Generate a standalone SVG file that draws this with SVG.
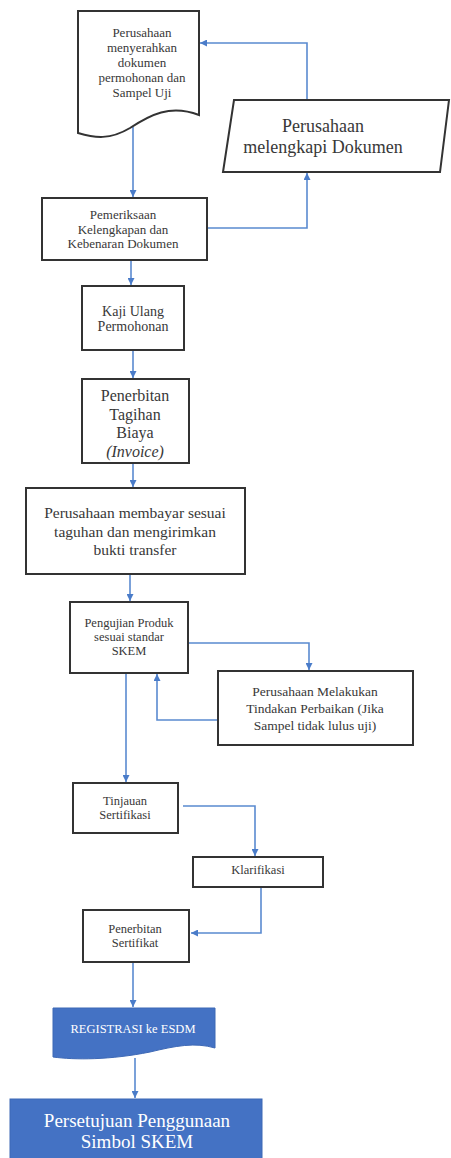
<svg xmlns="http://www.w3.org/2000/svg" width="451" height="1158" viewBox="0 0 451 1158">
<style>
.box{fill:#fff;stroke:#333;stroke-width:2}
.blue{fill:#4472C4;stroke:#3d68b5;stroke-width:1}
.t{font-family:"Liberation Serif","Times New Roman",serif;fill:#383838;text-anchor:middle}
.w{font-family:"Liberation Serif","Times New Roman",serif;fill:#fff;text-anchor:middle}
.c{fill:none;stroke:#5a8ad0;stroke-width:1.6}
</style>
<defs>
<marker id="ah" viewBox="0 0 10 10" refX="10" refY="5" markerWidth="7" markerHeight="7" markerUnits="userSpaceOnUse" orient="auto">
<path d="M0,0 L10,5 L0,10 z" fill="#4a7cc9"/>
</marker>
</defs>
<g id="connectors">
<path class="c" d="M133,127 V197" marker-end="url(#ah)"/>
<path class="c" d="M207,228 H307 V173" marker-end="url(#ah)"/>
<path class="c" d="M307,100 V43 H200" marker-end="url(#ah)"/>
<path class="c" d="M131,260 V285" marker-end="url(#ah)"/>
<path class="c" d="M133,350 V378" marker-end="url(#ah)"/>
<path class="c" d="M133,463 V487" marker-end="url(#ah)"/>
<path class="c" d="M130,574 V601" marker-end="url(#ah)"/>
<path class="c" d="M188,643 H309 V670" marker-end="url(#ah)"/>
<path class="c" d="M218,720 H157 V674" marker-end="url(#ah)"/>
<path class="c" d="M126,673 V782" marker-end="url(#ah)"/>
<path class="c" d="M183,806 H255 V856" marker-end="url(#ah)"/>
<path class="c" d="M261,887 V933 H191" marker-end="url(#ah)"/>
<path class="c" d="M133,962 V1007" marker-end="url(#ah)"/>
<path class="c" d="M135,1058 V1098" marker-end="url(#ah)"/>
</g>
<g id="n1">
<path class="box" d="M78,11 H199 V115 C170,104 150,115 130,128 C110,140 95,138 78,133 Z"/>
<text class="t" font-size="13" x="142" y="37">Perusahaan</text>
<text class="t" font-size="13" x="142" y="52">menyerahkan</text>
<text class="t" font-size="13" x="142" y="67">dokumen</text>
<text class="t" font-size="13" x="142" y="82">permohonan dan</text>
<text class="t" font-size="13" x="142" y="97">Sampel Uji</text>
</g>
<g id="n2">
<path class="box" d="M234,100 H449 L440,172 H223 Z"/>
<text class="t" font-size="18" x="323" y="132">Perusahaan</text>
<text class="t" font-size="18" x="323" y="153">melengkapi Dokumen</text>
</g>
<g id="n3">
<rect class="box" x="42" y="198" width="165" height="62"/>
<text class="t" font-size="13" x="123" y="219">Pemeriksaan</text>
<text class="t" font-size="13" x="123" y="233.5">Kelengkapan dan</text>
<text class="t" font-size="13" x="123" y="248">Kebenaran Dokumen</text>
</g>
<g id="n4">
<rect class="box" x="82" y="286" width="102" height="64"/>
<text class="t" font-size="14" x="133" y="316">Kaji Ulang</text>
<text class="t" font-size="14" x="133" y="331">Permohonan</text>
</g>
<g id="n5">
<rect class="box" x="82" y="379" width="107" height="84"/>
<text class="t" font-size="16" x="135" y="401">Penerbitan</text>
<text class="t" font-size="16" x="135" y="420">Tagihan</text>
<text class="t" font-size="16" x="135" y="438">Biaya</text>
<text class="t" font-size="16" x="135" y="457" font-style="italic">(Invoice)</text>
</g>
<g id="n6">
<rect class="box" x="26" y="488" width="219" height="86"/>
<text class="t" font-size="15.5" x="135" y="518">Perusahaan membayar sesuai</text>
<text class="t" font-size="15.5" x="135" y="536.5">taguhan dan mengirimkan</text>
<text class="t" font-size="15.5" x="135" y="555">bukti transfer</text>
</g>
<g id="n7">
<rect class="box" x="70" y="602" width="118" height="71"/>
<text class="t" font-size="12.5" x="129" y="627">Pengujian Produk</text>
<text class="t" font-size="12.5" x="129" y="641">sesuai standar</text>
<text class="t" font-size="12.5" x="129" y="655">SKEM</text>
</g>
<g id="n8">
<rect class="box" x="218" y="671" width="195" height="74"/>
<text class="t" font-size="13.5" x="315" y="696">Perusahaan Melakukan</text>
<text class="t" font-size="13.5" x="315" y="713">Tindakan Perbaikan (Jika</text>
<text class="t" font-size="13.5" x="315" y="730">Sampel tidak lulus uji)</text>
</g>
<g id="n9">
<rect class="box" x="73" y="783" width="105" height="50"/>
<text class="t" font-size="12.5" x="125" y="805">Tinjauan</text>
<text class="t" font-size="12.5" x="125" y="819">Sertifikasi</text>
</g>
<g id="n10">
<rect class="box" x="193" y="857" width="130" height="30"/>
<text class="t" font-size="12.5" x="258" y="874">Klarifikasi</text>
</g>
<g id="n11">
<rect class="box" x="83" y="910" width="106" height="52"/>
<text class="t" font-size="12.5" x="135" y="933">Penerbitan</text>
<text class="t" font-size="12.5" x="135" y="947">Sertifikat</text>
</g>
<g id="n12">
<path class="blue" d="M53,1008 H215 V1048 C195,1042 175,1046 150,1052 C110,1060 75,1060 53,1057 Z"/>
<text class="w" font-size="12.5" x="133" y="1033">REGISTRASI ke ESDM</text>
</g>
<g id="n13">
<rect class="blue" x="10" y="1099" width="252" height="62"/>
<text class="w" font-size="19" x="137" y="1127">Persetujuan Penggunaan</text>
<text class="w" font-size="19" x="137" y="1148">Simbol SKEM</text>
</g>
</svg>
